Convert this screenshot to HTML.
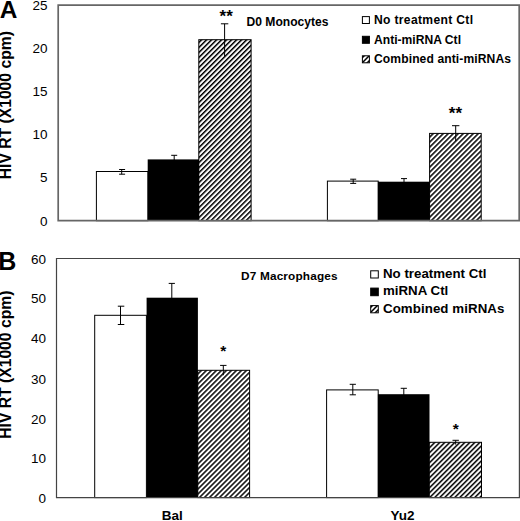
<!DOCTYPE html>
<html><head><meta charset="utf-8"><style>
html,body{margin:0;padding:0;background:#fff;width:520px;height:521px;overflow:hidden}
svg{display:block}
text{font-family:"Liberation Sans",sans-serif}
.b{font-weight:bold}
</style></head><body>
<svg width="520" height="521" viewBox="0 0 520 521">
<defs>
<pattern id="h" patternUnits="userSpaceOnUse" width="3.54" height="3.54" patternTransform="rotate(45)">
<rect x="0" y="0" width="1.5" height="3.54" fill="#000"/>
</pattern>
<clipPath id="lqA"><rect x="362.4" y="55.8" width="7" height="7"/></clipPath>
<clipPath id="lqB"><rect x="370.7" y="305.6" width="7.6" height="7.2"/></clipPath>
</defs>
<rect width="520" height="521" fill="#fff"/>

<!-- ===== Panel A ===== -->
<text x="-0.2" y="17.8" class="b" font-size="24.4">A</text>
<text transform="translate(11.1,105.2) rotate(-90)" text-anchor="middle" class="b" font-size="15.7">HIV RT (X1000 cpm)</text>
<g font-size="13.5" text-anchor="end">
<text x="47.5" y="226.3">0</text>
<text x="47.5" y="181.6">5</text>
<text x="47.5" y="138.9">10</text>
<text x="47.5" y="96.2">15</text>
<text x="47.5" y="53.0">20</text>
<text x="47.5" y="9.7">25</text>
</g>
<!-- bars A -->
<g stroke="#000" stroke-width="1">
<rect x="96.4" y="171.5" width="51.5" height="49.2" fill="#fff"/>
<rect x="198.8" y="39.7" width="52.3" height="181" fill="url(#h)"/>
<rect x="327.4" y="181.1" width="50.8" height="39.6" fill="#fff"/>
<rect x="429.6" y="133.4" width="51.6" height="87.3" fill="url(#h)"/>
</g>
<rect x="147.7" y="159.4" width="51.3" height="61.3" fill="#000"/>
<rect x="377.9" y="181.7" width="51.9" height="39" fill="#000"/>
<!-- error bars A -->
<g stroke="#000" stroke-width="1" fill="none">
<path d="M121.7 169.5V174.2M119.1 169.5H125.1M119.1 174.2H125.1"/>
<path d="M174.2 155.3V160M171.2 155.3H177.2"/>
<path d="M224.6 23.8V56.5M220.9 23.8H228.3"/>
<path d="M353.2 179.2V183.4M350.2 179.2H356.2M350.2 183.4H356.2"/>
<path d="M404 178.6V182M401 178.6H407"/>
<path d="M455.7 125.7V141.1M452 125.7H459.4"/>
</g>
<g class="b" font-size="17" text-anchor="middle">
<text x="226.2" y="21.5">**</text>
<text x="455.4" y="119.1">**</text>
</g>
<text x="246.5" y="26.1" class="b" font-size="12.1">D0 Monocytes</text>
<!-- legend A -->
<g stroke="#000" stroke-width="1">
<rect x="362.4" y="16.6" width="7" height="6.9" fill="#fff"/>
<rect x="362.4" y="36.3" width="7" height="7" fill="#000"/>
</g>
<g clip-path="url(#lqA)" stroke="#000" stroke-width="1.5">
<path d="M360 65L372 53M355 65L367 53M365 65L377 53"/>
</g>
<rect x="362.4" y="55.8" width="7" height="7" fill="none" stroke="#000" stroke-width="1"/>
<g class="b" font-size="12.1">
<text x="374" y="24.0" textLength="99" lengthAdjust="spacing">No treatment Ctl</text>
<text x="374" y="43.7" textLength="87" lengthAdjust="spacing">Anti-miRNA Ctl</text>
<text x="374" y="63.2" textLength="137.0" lengthAdjust="spacing">Combined anti-miRNAs</text>
</g>
<!-- frame A -->
<path d="M58.2 5.1H519.2V220.6H58.2Z" fill="none" stroke="#666" stroke-width="1.7"/>

<!-- ===== Panel B ===== -->
<text x="-1.8" y="269.8" class="b" font-size="25">B</text>
<text transform="translate(11.1,364.7) rotate(-90)" text-anchor="middle" class="b" font-size="15.7">HIV RT (X1000 cpm)</text>
<g font-size="13.5" text-anchor="end">
<text x="46" y="502.8">0</text>
<text x="46" y="462.7">10</text>
<text x="46" y="423.5">20</text>
<text x="46" y="383.6">30</text>
<text x="46" y="342.8">40</text>
<text x="46" y="303.4">50</text>
<text x="46" y="263.6">60</text>
</g>
<g stroke="#000" stroke-width="1">
<rect x="94.7" y="315.3" width="51.7" height="182.3" fill="#fff"/>
<rect x="197.8" y="370.3" width="51.8" height="127.3" fill="url(#h)"/>
<rect x="326.6" y="389.9" width="51.6" height="107.7" fill="#fff"/>
<rect x="429.2" y="442.3" width="52.3" height="55.3" fill="url(#h)"/>
</g>
<rect x="146.6" y="297.7" width="51.3" height="199.9" fill="#000"/>
<rect x="377.9" y="394.2" width="51.6" height="103.4" fill="#000"/>
<g stroke="#000" stroke-width="1" fill="none">
<path d="M120.5 306.2V324.5M117.8 306.2H124.3M117.8 324.5H124.3"/>
<path d="M171.8 283.4V298M168.7 283.4H174.9"/>
<path d="M223.3 365.4V375.2M220.1 365.4H226.5"/>
<path d="M352.8 384.3V394.8M349.7 384.3H355.9M349.7 394.8H355.9"/>
<path d="M403.8 388.3V395M400.7 388.3H406.9"/>
<path d="M455.7 440.3V444.6M452.5 440.3H458.9"/>
</g>
<g class="b" font-size="15.5" text-anchor="middle">
<text x="223.2" y="355.7">*</text>
<text x="455.8" y="434.4">*</text>
</g>
<text x="241.1" y="280.2" class="b" font-size="11.8" textLength="96.5" lengthAdjust="spacing">D7 Macrophages</text>
<g stroke="#000" stroke-width="1">
<rect x="370.7" y="270.8" width="7.6" height="7.2" fill="#fff"/>
<rect x="370.7" y="288.1" width="7.6" height="7.6" fill="#000"/>
</g>
<g clip-path="url(#lqB)" stroke="#000" stroke-width="1.5">
<path d="M368 315L382 301M363 315L377 301M373 315L387 301"/>
</g>
<rect x="370.7" y="305.6" width="7.6" height="7.2" fill="none" stroke="#000" stroke-width="1"/>
<g class="b" font-size="13.3">
<text x="383" y="277.6">No treatment Ctl</text>
<text x="383" y="295.4">miRNA Ctl</text>
<text x="383" y="312.8" textLength="121.4" lengthAdjust="spacing">Combined miRNAs</text>
</g>
<g class="b" font-size="13.5" text-anchor="middle">
<text x="172.3" y="520.2">Bal</text>
<text x="402.4" y="520.2">Yu2</text>
</g>
<path d="M56.5 258.5H519.4V497.6H56.5Z" fill="none" stroke="#444" stroke-width="1.2"/>
</svg>
</body></html>
